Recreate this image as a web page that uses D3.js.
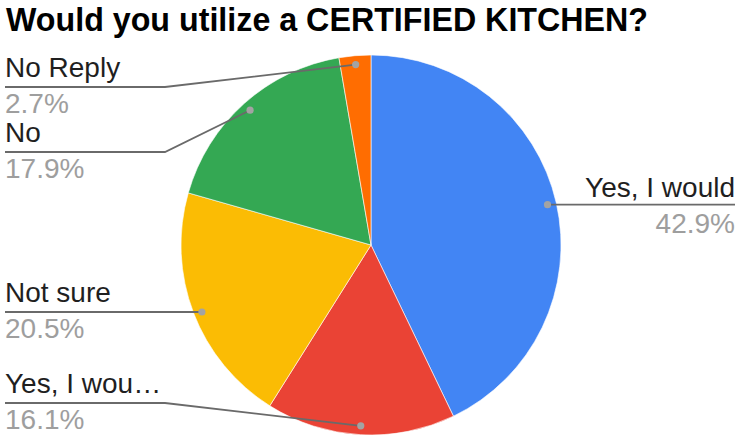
<!DOCTYPE html>
<html>
<head>
<meta charset="utf-8">
<script src="https://cdn.jsdelivr.net/npm/d3@7"></script>
<style>
  html, body { margin: 0; padding: 0; background: #fff; }
  svg { display: block; font-family: "Liberation Sans", Arial, sans-serif; }
</style>
</head>
<body>
<svg id="chart" width="739" height="436"></svg>
<script>
// Survey answers, in clockwise order from 12 o'clock
const categories = ["Yes, I would", "Yes, I wou…", "Not sure", "No", "No Reply"];
const shares = [42.9, 16.1, 20.5, 17.9, 2.7];
const percentLabels = ["42.9%", "16.1%", "20.5%", "17.9%", "2.7%"];
const sliceColors = ["#4285f4", "#ea4335", "#fbbc04", "#34a853", "#ff6d01"];

// Label placement: side and baseline of each category name
const labelSide = ["right", "left", "left", "left", "left"];
const labelBaseline = [197, 393, 302, 142, 77];

const svg = d3.select("#chart");
const cx = 371, cy = 245, R = 190;

svg.append("text")
  .attr("x", 6).attr("y", 31)
  .attr("font-size", 34).attr("font-weight", "bold")
  .attr("fill", "#000")
  .attr("textLength", 642).attr("lengthAdjust", "spacingAndGlyphs")
  .text("Would you utilize a CERTIFIED KITCHEN?");

const data = categories.map((c, i) => ({
  name: c, value: shares[i], pct: percentLabels[i], color: sliceColors[i],
  side: labelSide[i], base: labelBaseline[i]
}));

const pie = d3.pie().value(d => d.value).sort(null);
const arcs = pie(data);
const arc = d3.arc().innerRadius(0).outerRadius(R);
const dotArc = d3.arc().innerRadius(R * 0.953).outerRadius(R * 0.953);

const g = svg.append("g").attr("transform", `translate(${cx},${cy})`);
g.selectAll("path.slice")
  .data(arcs)
  .join("path")
  .attr("class", "slice")
  .attr("d", arc)
  .attr("fill", d => d.data.color)
  .attr("stroke", "#fff")
  .attr("stroke-width", 0.6);

// Leader lines and labels
const lineColor = "#6a6a6a";
const bendX = 165;
arcs.forEach(a => {
  const [dx, dy] = dotArc.centroid(a);
  const px = cx + dx, py = cy + dy;
  const right = a.data.side === "right";
  const lineY = right ? py : a.data.base + 10;
  const flat = right || Math.abs(py - lineY) < 4;
  const dotY = flat ? lineY : py;
  const pts = right
    ? [[px, dotY], [735, dotY]]
    : flat
      ? [[px, dotY], [5, dotY]]
      : [[px, py], [bendX, lineY], [5, lineY]];
  svg.append("path")
    .attr("d", d3.line()(pts))
    .attr("fill", "none")
    .attr("stroke", lineColor)
    .attr("stroke-width", 1.8);
  svg.append("circle")
    .attr("cx", px).attr("cy", dotY)
    .attr("r", 3.6)
    .attr("fill", "#a3a3a3");

  const tx = right ? 735 : 5;
  const anchor = right ? "end" : "start";
  const nameY = a.data.base;
  svg.append("text")
    .attr("x", tx).attr("y", nameY)
    .attr("text-anchor", anchor)
    .attr("font-size", 28).attr("fill", "#1f1f1f")
    .text(a.data.name);
  svg.append("text")
    .attr("x", tx).attr("y", nameY + 36)
    .attr("text-anchor", anchor)
    .attr("font-size", 28).attr("fill", "#9e9e9e")
    .text(a.data.pct);
});
</script>
</body>
</html>
